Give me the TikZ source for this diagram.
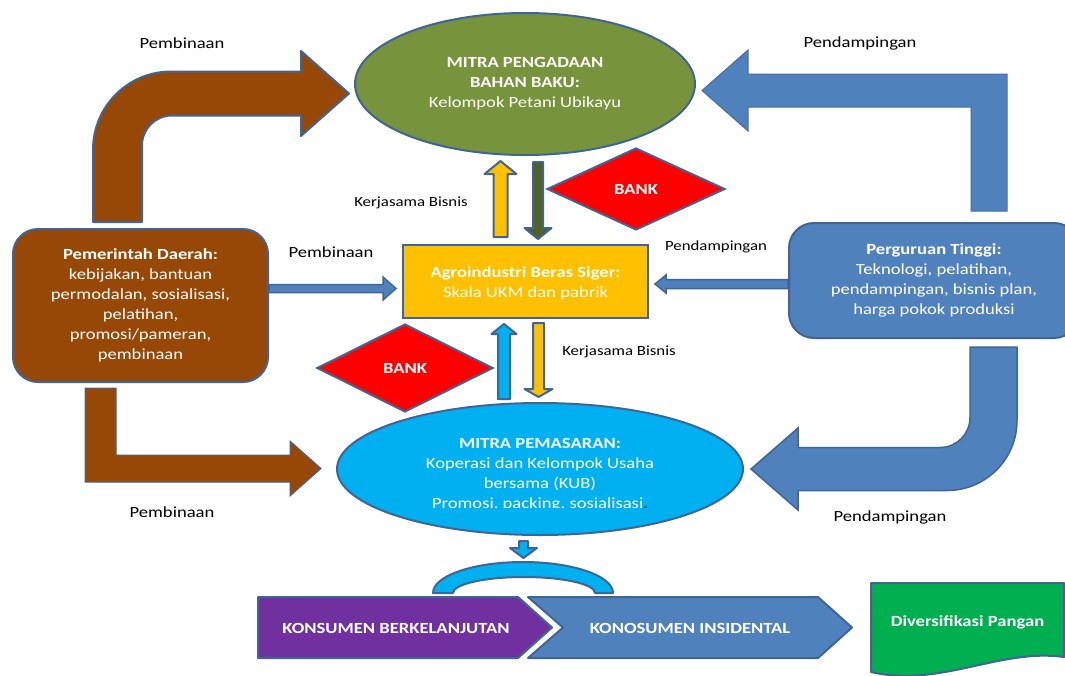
\documentclass[tikz,border=0pt]{standalone}
\usepackage{fontspec}
\setmainfont{Carlito}[FakeStretch=1.2]
\usetikzlibrary{shapes.geometric,calc}
\definecolor{edgeblue}{HTML}{3F6597}
\definecolor{arrowbrown}{HTML}{974706}
\definecolor{olivegreen}{HTML}{77933C}
\definecolor{darkolive}{HTML}{4F6228}
\definecolor{officeblue}{HTML}{4F81BD}
\definecolor{officeyellow}{HTML}{FFC000}
\definecolor{officecyan}{HTML}{00B0F0}
\definecolor{officepurple}{HTML}{7030A0}
\definecolor{officegreen}{HTML}{00B050}
\tikzset{
  boxtext/.style={text=white, align=center, inner sep=0pt},
  shapebox/.style={boxtext, draw=edgeblue, line width=2pt},
  lbl/.style={inner sep=0pt, text=black},
  smalllbl/.style={lbl, font=\fontsize{14}{18}\selectfont},
  thickedge/.style={draw=edgeblue, line width=2pt, line join=round},
  thinedge/.style={draw=edgeblue, line width=1pt},
  bluebend/.style={draw=officeblue!85!black, line width=1pt, fill=officeblue},
}
% vertical block arrow: style, tail, tip, shaft half, head half, head length (signed)
\newcommand\vblockarrow[6]{%
  \draw[#1] let \p1=(#2), \p2=(#3) in
    ({\x1-#4},\y1) -- ({\x1-#4},{\y2-(#6)}) -- ({\x1-#5},{\y2-(#6)}) -- (\x1,\y2)
    -- ({\x1+#5},{\y2-(#6)}) -- ({\x1+#4},{\y2-(#6)}) -- ({\x1+#4},\y1) -- cycle;}
% horizontal block arrow
\newcommand\hblockarrow[6]{%
  \draw[#1] let \p1=(#2), \p2=(#3) in
    (\x1,{\y1-#4}) -- ({\x2-(#6)},{\y1-#4}) -- ({\x2-(#6)},{\y1-#5}) -- (\x2,\y1)
    -- ({\x2-(#6)},{\y1+#5}) -- ({\x2-(#6)},{\y1+#4}) -- (\x1,{\y1+#4}) -- cycle;}
\begin{document}
\begin{tikzpicture}[x=1pt,y=-1pt,font=\fontsize{15.5}{20}\selectfont]
  \useasboundingbox (0,0) rectangle (1065,675);
  \fill[white] (0,0) rectangle (1065,675);
  % main blocks
  \node[shapebox, ellipse, fill=olivegreen, minimum width=340pt, minimum height=142pt] (pengadaan) at (525,84)
    {\textbf{MITRA PENGADAAN}\\\textbf{BAHAN BAKU:}\\Kelompok Petani Ubikayu};
  \node[shapebox, fill=officeyellow, minimum width=245pt, minimum height=73pt] (agro) at (525.5,281.5) {};
  \node[boxtext] (agrotext) at (525.5,283.5) {\textbf{Agroindustri Beras Siger:}\\Skala UKM dan pabrik};
  \node[shapebox, rounded corners=25pt, fill=arrowbrown, minimum width=255pt, minimum height=153pt] (pemda) at (140.5,305.5)
    {\textbf{Pemerintah Daerah:}\\kebijakan, bantuan\\permodalan, sosialisasi,\\pelatihan,\\promosi/pameran,\\pembinaan};
  \node[shapebox, rounded corners=25pt, fill=officeblue, minimum width=290pt, minimum height=115pt] (pt) at (934,280.5)
    {\textbf{Perguruan Tinggi:}\\Teknologi, pelatihan,\\pendampingan, bisnis plan,\\harga pokok produksi};
  \node[shapebox, diamond, fill=red, minimum width=178pt, minimum height=82pt] (bankatas) at (636,189) {\textbf{BANK}};
  \node[shapebox, diamond, fill=red, minimum width=176pt, minimum height=88pt] (bankbawah) at (405,368) {\textbf{BANK}};
  \node[shapebox, ellipse, fill=officecyan, minimum width=406pt, minimum height=132pt] (pemasaran) at (540,469) {};
  \begin{scope}
    \clip (337,400) rectangle (743,507.5);
    \node[boxtext] (pemasarantext) at (540,475)
      {\textbf{MITRA PEMASARAN:}\\Koperasi dan Kelompok Usaha\\bersama (KUB)\\Promosi, packing, sosialisasi\textcolor{black}{.}};
  \end{scope}

  % labels
  \node[lbl] (lblpb1) at (182,43) {Pembinaan};
  \node[lbl] (lblpd1) at (860,43) {Pendampingan};
  \node[smalllbl] (lblkb1) at (411,203) {Kerjasama Bisnis};
  \node[lbl] (lblpb2) at (331,252) {Pembinaan};
  \node[smalllbl] (lblpd2) at (716,247) {Pendampingan};
  \node[smalllbl] (lblkb2) at (619,352) {Kerjasama Bisnis};
  \node[lbl] (lblpb3) at (172,512) {Pembinaan};
  \node[lbl] (lblpd3) at (890,517) {Pendampingan};

  % straight arrows
  \coordinate (pbTip) at ($(agro.west)+(-6,7)$);
  \coordinate (pbTail) at (pemda.east |- pbTip);
  \hblockarrow{fill=officeblue, draw=edgeblue, line width=1.5pt}{pbTail}{pbTip}{4pt}{11.5pt}{13pt}
  \coordinate (pdTip) at ($(agro.east)+(6,2.5)$);
  \coordinate (pdTail) at (pt.west |- pdTip);
  \hblockarrow{fill=officeblue, draw=edgeblue, line width=1.5pt}{pdTail}{pdTip}{4.5pt}{9pt}{-11pt}
  \coordinate (upaTail) at ($(agro.north)+(-25,-7)$);
  \coordinate (upaTip) at ($(pengadaan.south)+(-25,5)$);
  \vblockarrow{thickedge, fill=officeyellow}{upaTail}{upaTip}{7pt}{16pt}{13pt}
  \coordinate (dnaTail) at ($(pengadaan.south)+(13,6)$);
  \coordinate (dnaTip) at ($(agro.north)+(12.5,-5)$);
  \vblockarrow{thickedge, fill=darkolive}{dnaTail}{dnaTip}{5pt}{13.5pt}{-11pt}
  \coordinate (upbTail) at ($(pemasaran.north)+(-36,-3)$);
  \coordinate (upbTip) at ($(agro.south)+(-21,5)$);
  \vblockarrow{thickedge, fill=officecyan}{upbTail}{upbTip}{6pt}{12.5pt}{10pt}
  \coordinate (dnbTail) at ($(agro.south)+(13,4)$);
  \coordinate (dnbTip) at ($(pemasaran.north)+(-1.5,-5)$);
  \vblockarrow{thickedge, fill=officeyellow}{dnbTail}{dnbTip}{5.5pt}{14pt}{-8pt}
  \coordinate (konsTail) at ($(pemasaran.south)+(-16.5,5)$);
  \coordinate (konsTip) at ($(pemasaran.south)+(-16.5,22)$);
  \vblockarrow{thickedge, fill=officecyan}{konsTail}{konsTip}{4.5pt}{13.5pt}{-10pt}

  % bent arrows
  \coordinate (bendaTail) at ($(pemda.north)+(-23,-6)$);
  \coordinate (bendaTip) at ($(pengadaan.west)+(-5,9.5)$);
  \path[thickedge, fill=arrowbrown] let \p1=(bendaTail), \p2=(bendaTip) in
    (\x1-24.5pt,\y1) -- (\x1-24.5pt,\y2-56pt)
    .. controls (\x1-24.5pt,\y2-13pt) and (\x1+10.5pt,\y2+22pt) .. (\x1+53.5pt,\y2+22pt)
    -- (\x2-48pt,\y2+22pt) -- (\x2-48pt,\y2+42.5pt) -- (\x2,\y2) -- (\x2-48pt,\y2-42.5pt)
    -- (\x2-48pt,\y2-22pt) -- (\x1+54.5pt,\y2-22pt)
    .. controls (\x1+37.9pt,\y2-22pt) and (\x1+24.5pt,\y2-35.4pt) .. (\x1+24.5pt,\y2-52pt)
    -- (\x1+24.5pt,\y1) -- cycle;
  \coordinate (bendbTail) at ($(pt.north)+(55,-11)$);
  \coordinate (bendbTip) at ($(pengadaan.east)+(6,6.5)$);
  \path[bluebend] let \p1=(bendbTail), \p2=(bendbTip) in
    (\x1-18pt,\y1) -- (\x1-18pt,\y2-16.5pt) -- (\x2+46pt,\y2-16.5pt) -- (\x2+46pt,\y2-40.5pt)
    -- (\x2,\y2) -- (\x2+46pt,\y2+40.5pt) -- (\x2+46pt,\y2+16.5pt) -- (\x1+18pt,\y2+16.5pt)
    -- (\x1+18pt,\y1) -- cycle;
  \coordinate (bendcTail) at ($(pemda.south)+(-40,5)$);
  \coordinate (bendcTip) at ($(pemasaran.west)+(-15,-0.5)$);
  \path[thinedge, fill=arrowbrown] let \p1=(bendcTail), \p2=(bendcTip) in
    (\x1-15.5pt,\y1) -- (\x1-15.5pt,\y2-13.5pt) -- (\x2-31pt,\y2-13.5pt) -- (\x2-31pt,\y2-27.5pt)
    -- (\x2,\y2) -- (\x2-31pt,\y2+27.5pt) -- (\x2-31pt,\y2+13.5pt) -- (\x1+15.5pt,\y2+13.5pt)
    -- (\x1+15.5pt,\y1) -- cycle;
  \coordinate (benddTail) at ($(pt.south)+(59.5,8)$);
  \coordinate (benddTip) at ($(pemasaran.east)+(7,0)$);
  \path[bluebend, draw=edgeblue, line width=1.5pt] let \p1=(benddTail), \p2=(benddTip) in
    (\x1-23.5pt,\y1) -- (\x1-23.5pt,\y2+51.5pt)
    .. controls (\x1-23.5pt,\y2+34.9pt) and (\x1-36.9pt,\y2+21.5pt) .. (\x1-53.5pt,\y2+21.5pt)
    -- (\x2+47pt,\y2+21.5pt) -- (\x2+47pt,\y2+41pt) -- (\x2,\y2) -- (\x2+47pt,\y2-41pt)
    -- (\x2+47pt,\y2-21.5pt) -- (\x1-46.5pt,\y2-21.5pt)
    .. controls (\x1-7.8pt,\y2-21.5pt) and (\x1+23.5pt,\y2+9.8pt) .. (\x1+23.5pt,\y2+48.5pt)
    -- (\x1+23.5pt,\y1) -- cycle;

  % consumers
  \path[thickedge, fill=officecyan] (433,593) .. controls (433,575.9) and (473.3,562) .. (523,562)
    .. controls (572.7,562) and (613,575.9) .. (613,593) -- (595,593)
    .. controls (595,584.2) and (563.2,577) .. (524,577)
    .. controls (484.8,577) and (453,584.2) .. (453,593) -- cycle;
  \path[thickedge, fill=officepurple] (258,597) -- (518,597) -- (552,627.5) -- (518,658) -- (258,658) -- cycle;
  \path[thickedge, fill=officeblue] (528,597) -- (818,597) -- (852,627.5) -- (818,658) -- (528,658) -- (563,627.5) -- cycle;
  \node[boxtext] (berkelanjutan) at (396,628) {\textbf{KONSUMEN BERKELANJUTAN}};
  \node[boxtext] (insidental) at (690,628) {\textbf{KONOSUMEN INSIDENTAL}};
  \path[thickedge, fill=officegreen] (871,583) -- (1064,583) -- (1064,657)
    .. controls (1000,648) and (940,688) .. (871,672) -- cycle;
  \node[boxtext] (diversifikasi) at (967.5,622) {\textbf{Diversifikasi Pangan}};
\end{tikzpicture}
\end{document}
